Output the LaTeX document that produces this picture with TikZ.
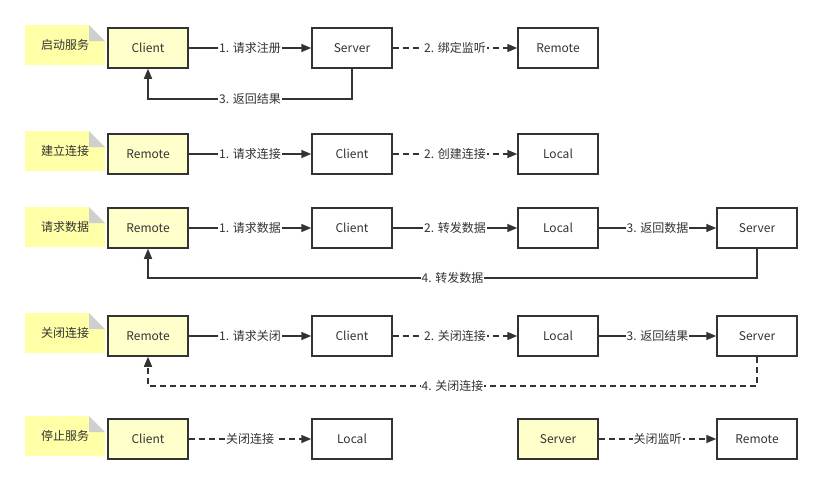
\documentclass[tikz,border=0pt]{standalone}
\usepackage{fontspec}
\setmainfont{Noto Sans CJK SC}
\usetikzlibrary{arrows.meta}

\definecolor{ink}{HTML}{333333}
\definecolor{hotfill}{HTML}{FFFFCC}
\definecolor{notefill}{HTML}{FFFFA8}
\definecolor{foldgray}{HTML}{CFCFCF}

\tikzset{
  box/.style={draw=ink,line width=1.5pt,fill=white,minimum width=80pt,minimum height=40pt,inner sep=0pt},
  hot/.style={box,fill=hotfill},
  note/.style={minimum width=80pt,minimum height=40pt,inner sep=0pt},
  link/.style={draw=ink,line width=1.5pt,-{Triangle[length=10pt,width=8pt]}},
  dlink/.style={link,dash pattern=on 6pt off 4pt},
  lbl/.style={fill=white,inner sep=1pt}
}

\begin{document}
\begin{tikzpicture}[x=1pt,y=-1pt,text=ink,font=\fontsize{12}{14}\selectfont]

      \useasboundingbox (0,0) rectangle (822,483);

      % notes on the left
      \foreach \nm/\y/\txt in {n1/45/启动服务,n2/151/建立连接,n3/227/请求数据,n4/333/关闭连接,n5/436/停止服务}{
        \fill[notefill] (25,\y+20) -- (25,\y-20) -- (89,\y-20) -- (105,\y-4) -- (105,\y+20) -- cycle;
        \fill[foldgray] (89,\y-20) -- (89,\y-4) -- (105,\y-4) -- cycle;
        \node[note] (\nm) at (65,\y) {\txt};
      }

      % start
      \node[hot] (cli1) at (148,48) {Client};
      \node[box] (srv1) at (352,48) {Server};
      \node[box] (rem1) at (558,48) {Remote};
      \draw[link] (cli1) -- node[lbl] {1. 请求注册} (srv1);
      \draw[dlink] (srv1) -- node[lbl] {2. 绑定监听} (rem1);
      \draw[link] (srv1.south) -- ++(0,30) -| node[lbl,pos=0.25] {3. 返回结果} (cli1.south);

      % connect
      \node[hot] (rem2) at (148,154) {Remote};
      \node[box] (cli2) at (352,154) {Client};
      \node[box] (loc2) at (558,154) {Local};
      \draw[link] (rem2) -- node[lbl] {1. 请求连接} (cli2);
      \draw[dlink] (cli2) -- node[lbl] {2. 创建连接} (loc2);

      % data
      \node[hot] (rem3) at (148,228) {Remote};
      \node[box] (cli3) at (352,228) {Client};
      \node[box] (loc3) at (558,228) {Local};
      \node[box] (srv3) at (757,228) {Server};
      \draw[link] (rem3) -- node[lbl] {1. 请求数据} (cli3);
      \draw[link] (cli3) -- node[lbl] {2. 转发数据} (loc3);
      \draw[link] (loc3) -- node[lbl] {3. 返回数据} (srv3);
      \draw[link] (srv3.south) -- ++(0,29) -| node[lbl,pos=0.25] {4. 转发数据} (rem3.south);

      % close
      \node[hot] (rem4) at (148,336) {Remote};
      \node[box] (cli4) at (352,336) {Client};
      \node[box] (loc4) at (558,336) {Local};
      \node[box] (srv4) at (757,336) {Server};
      \draw[link] (rem4) -- node[lbl] {1. 请求关闭} (cli4);
      \draw[dlink] (cli4) -- node[lbl] {2. 关闭连接} (loc4);
      \draw[link] (loc4) -- node[lbl] {3. 返回结果} (srv4);
      \draw[dlink] (srv4.south) -- ++(0,29) -| node[lbl,pos=0.25] {4. 关闭连接} (rem4.south);

      % stop
      \node[hot] (cli5) at (148,439) {Client};
      \node[box] (loc5) at (352,439) {Local};
      \node[hot] (srv5) at (558,439) {Server};
      \node[box] (rem5) at (757,439) {Remote};
      \draw[dlink] (cli5) -- node[lbl] {关闭连接} (loc5);
      \draw[dlink] (srv5) -- node[lbl] {关闭监听} (rem5);

    \end{tikzpicture}
\end{document}
